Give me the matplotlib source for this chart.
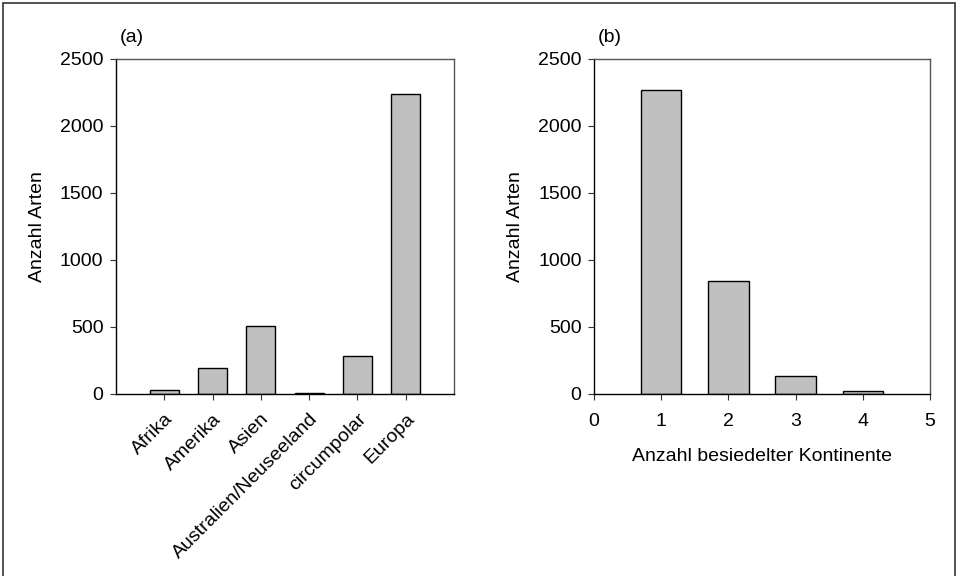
import matplotlib
matplotlib.use("Agg")
import matplotlib.pyplot as plt
from matplotlib.patches import Rectangle

plt.rcParams['font.family'] = ['Liberation Sans', 'DejaVu Sans']
plt.rcParams['font.size'] = 14

# (a) Arten je Herkunftsregion
regionen = ['Afrika', 'Amerika', 'Asien', 'Australien/Neuseeland', 'circumpolar', 'Europa']
arten_region = [30, 195, 510, 10, 285, 2240]

# (b) Arten je Anzahl besiedelter Kontinente
kontinente = [1, 2, 3, 4]
arten_kontinente = [2270, 845, 135, 22]

y_ticks = [0, 500, 1000, 1500, 2000, 2500]
bar_color = '#c0c0c0'

fig = plt.figure(figsize=(9.57, 5.76), dpi=100)

# Rahmen um die ganze Abbildung
fig.patches.append(Rectangle((0.003, -0.01), 0.995, 1.005, transform=fig.transFigure,
                             fill=False, edgecolor='#333333', linewidth=1.2))

ax1 = fig.add_axes([0.1212, 0.316, 0.3532, 0.5816])
ax2 = fig.add_axes([0.6207, 0.316, 0.3511, 0.5816])


def style_axis(ax):
    ax.set_ylim(0, 2500)
    ax.set_yticks(y_ticks)
    ax.tick_params(direction='out', length=4, width=0.8, labelsize=14, color='#333333')
    ax.tick_params(axis='y', pad=5)
    for s in ax.spines.values():
        s.set_linewidth(1.0)
    for s in ['top', 'right']:
        ax.spines[s].set_color('#555555')
    ax.set_ylabel('Anzahl Arten', fontsize=14, labelpad=10)


# --- (a) ---
pos = list(range(len(regionen)))
ax1.bar(pos, arten_region, width=0.6, color=bar_color, edgecolor='black', linewidth=1.0)
ax1.set_xlim(-1, 6)
ax1.set_xticks(pos)
ax1.set_xticklabels(regionen, rotation=45, ha='right', rotation_mode='anchor')
style_axis(ax1)
ax1.tick_params(axis='x', pad=8)
ax1.text(0.01, 1.04, '(a)', transform=ax1.transAxes, fontsize=14, ha='left', va='bottom')

# --- (b) ---
ax2.bar(kontinente, arten_kontinente, width=0.6, color=bar_color, edgecolor='black', linewidth=1.0)
ax2.set_xlim(0, 5)
ax2.set_xticks([0, 1, 2, 3, 4, 5])
ax2.set_xlabel('Anzahl besiedelter Kontinente', fontsize=14)
ax2.xaxis.set_label_coords(0.5, -0.16)
style_axis(ax2)
ax2.tick_params(axis='x', pad=10)
ax2.text(0.01, 1.04, '(b)', transform=ax2.transAxes, fontsize=14, ha='left', va='bottom')

fig.savefig('out.png', dpi=100)
